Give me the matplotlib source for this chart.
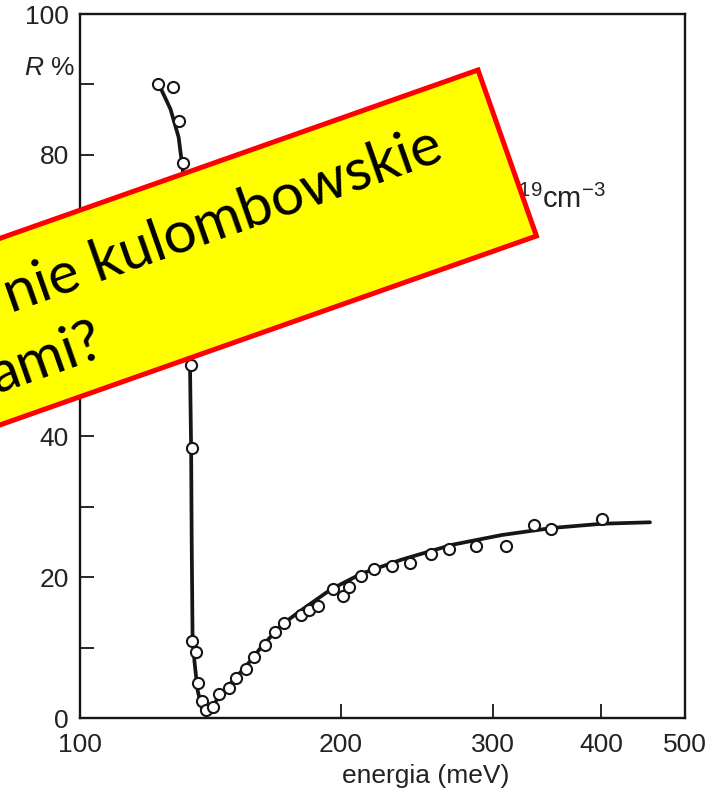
import numpy as np
import matplotlib.pyplot as plt
from matplotlib.patches import Polygon
from matplotlib.ticker import FixedLocator, NullFormatter

# measured reflectivity (open circles)
energy_pts = [123.2, 127.9, 130.3, 131.4, 134.2, 134.6, 134.6, 136.0, 136.7, 138.2,
              139.7, 142.3, 144.6, 148.5, 151.4, 155.4, 158.8, 163.6, 168.0, 172.1,
              180.1, 184.0, 188.5, 196.2, 201.5, 204.8, 211.4, 218.4, 229.1, 240.4,
              254.3, 266.9, 286.9, 310.8, 334.2, 350.5, 400.8]
refl_pts = [90.1, 89.6, 84.8, 78.9, 50.1, 38.4, 11.0, 9.4, 5.0, 2.4,
            1.1, 1.5, 3.4, 4.2, 5.7, 6.9, 8.6, 10.4, 12.2, 13.5,
            14.6, 15.4, 15.9, 18.3, 17.4, 18.6, 20.1, 21.1, 21.6, 22.0,
            23.3, 24.0, 24.4, 24.4, 27.4, 26.9, 28.2]

# fitted curve
energy_fit = [123.9, 127.2, 130.0, 131.7, 132.8, 133.5, 134.0, 134.4, 134.6, 134.9,
              135.6, 136.7, 138.2, 139.7, 141.6, 144.6, 149.4, 155.4, 161.8, 170.8,
              180.1, 195.1, 211.4, 235.3, 269.0, 307.4, 351.5, 401.8, 455.5]
refl_fit = [89.5, 86.5, 82.5, 77.0, 70.0, 62.0, 50.0, 38.0, 25.0, 12.0,
            8.0, 4.0, 1.5, 0.8, 1.2, 3.0, 5.0, 7.3, 10.0, 13.2,
            15.3, 18.3, 20.5, 22.5, 24.6, 26.0, 27.0, 27.6, 27.8]

x_ticks = [100, 200, 300, 400, 500]
y_major = [0, 20, 40, 60, 80, 100]
y_minor = [10, 30, 50, 70, 90]

line1 = "nie kulombowskie"
line2 = "ami?"

W, H = 712, 799
ink = '#161616'
grey = '#222222'

plt.rcParams['mathtext.fontset'] = 'custom'
plt.rcParams['mathtext.rm'] = 'Liberation Sans'
plt.rcParams['mathtext.it'] = 'Liberation Sans:italic'

fig = plt.figure(figsize=(W / 100, H / 100), dpi=100)
ax = fig.add_axes([80 / W, 1 - 718 / H, 605 / W, 704 / H])

ax.plot(energy_fit, refl_fit, color=ink, lw=2.7, solid_capstyle='round', zorder=2)
ax.plot(energy_pts, refl_pts, 'o', ms=8, mfc='white', mec=ink, mew=1.5, zorder=3)

ax.set_xscale('log')
ax.set_xlim(100, 500)
ax.set_ylim(0, 100)
ax.xaxis.set_major_locator(FixedLocator(x_ticks))
ax.xaxis.set_minor_locator(FixedLocator([]))
ax.xaxis.set_minor_formatter(NullFormatter())
ax.set_xticklabels([str(v) for v in x_ticks])
ax.set_yticks(y_major)
ax.set_yticks(y_minor, minor=True)

for lab in ax.get_xticklabels() + ax.get_yticklabels():
    lab.set_fontfamily('Liberation Sans')
    lab.set_fontsize(19)
    lab.set_color(grey)

ax.tick_params(which='both', direction='in', length=10, width=1.3, color=ink)
ax.tick_params(axis='x', pad=11)
ax.tick_params(axis='y', pad=8)
for sp in ax.spines.values():
    sp.set_linewidth(1.7)
    sp.set_color(ink)

ax.set_xlabel("energia (meV)", fontfamily='Liberation Sans', fontsize=19, color=grey)
ax.xaxis.set_label_coords((426 - 80) / 605, -0.066)

fig.text(75 / W, 1 - 75 / H, "$R$ %", ha='right', va='baseline',
         fontfamily='Liberation Sans', fontsize=19, color=grey)

# carrier density note (mostly under the yellow box)
ax.text(606 / W, 1 - 208 / H, r"$10^{19}\mathrm{cm}^{-3}$", transform=fig.transFigure,
        ha='right', va='baseline', fontsize=21, color=grey)

# tilted yellow label box, running off the left edge
ang = np.deg2rad(19.4)
u = np.array([-np.cos(ang), np.sin(ang)])   # along the long side, leftwards
v = np.array([np.sin(ang), np.cos(ang)])    # across the box, downwards
tr = np.array([478.0, 70.0])
box_h, box_w = 176.0, 760.0
corners = [tr, tr + box_h * v, tr + box_h * v + box_w * u, tr + box_w * u]
to_fig = lambda p: (p[0] / W, 1 - p[1] / H)
fig.patches.append(Polygon([to_fig(c) for c in corners], closed=True,
                           transform=fig.transFigure, facecolor='#ffff00',
                           edgecolor='#ff0000', lw=3.6, joinstyle='miter', zorder=5))

for txt, d, p in [(line1, 60, 74), (line2, 445, 146)]:
    pos = to_fig(tr + d * u + p * v)
    fig.text(pos[0], pos[1], txt, rotation=np.rad2deg(ang), rotation_mode='anchor',
             ha='right', va='baseline', fontfamily='Lato', fontsize=42,
             color='black', zorder=6)

fig.savefig('out.png', dpi=100)
